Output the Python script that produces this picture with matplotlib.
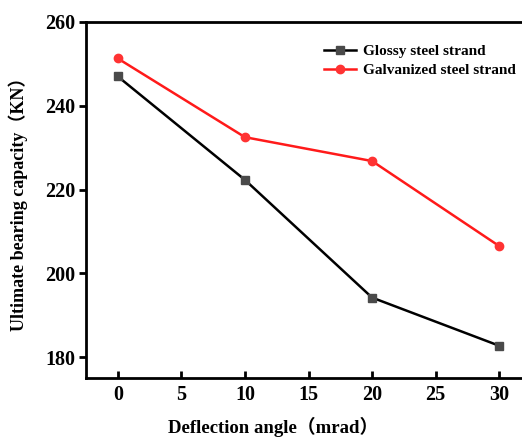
import matplotlib.pyplot as plt

angle = [0, 10, 20, 30]
glossy = [247.0, 222.3, 194.2, 182.7]
galvanized = [251.3, 232.5, 226.8, 206.5]
xticks = [0, 5, 10, 15, 20, 25, 30]
yticks = [180, 200, 220, 240, 260]

plt.rcParams['font.family'] = ['Liberation Serif', 'Noto Sans CJK SC']
plt.rcParams['font.weight'] = 'bold'

fig = plt.figure(figsize=(5.22, 4.37), dpi=100)
# right spine sits just past the image edge, as in the reference
ax = fig.add_axes([86 / 522, 1 - 378 / 437, 445 / 522, 356 / 437])

ax.plot(angle, glossy, color='black', lw=1.8, marker='s', ms=5.5,
        mfc='#4a4a4a', mec='#4a4a4a', label='Glossy steel strand')
ax.plot(angle, galvanized, color='#ff1a1a', lw=1.8, marker='o', ms=6,
        mfc='#ff3333', mec='#ff3333', label='Galvanized steel strand')

ax.set_xlim(-2.5, 32.5)
ax.set_ylim(175, 260)
ax.set_xticks(xticks)
ax.set_yticks(yticks)
ax.tick_params(axis='x', direction='in', length=5, width=2, labelsize=14.5, pad=5)
ax.tick_params(axis='y', direction='out', length=5, width=2, labelsize=14.5, pad=3)
for s in ax.spines.values():
    s.set_linewidth(2)

ax.set_xlabel('Deflection angle（mrad）', fontsize=13.5, fontweight='bold')
ax.xaxis.set_label_coords(0.42, -0.108)
ax.set_ylabel('Ultimate bearing capacity（KN）', fontsize=13, fontweight='bold', labelpad=12)

ax.legend(loc='upper left', bbox_to_anchor=(0.503, 0.975), frameon=False,
          prop={'size': 11, 'weight': 'bold'}, handlelength=2.1,
          handletextpad=0.5, labelspacing=0.35)

fig.savefig('out.png', dpi=100)
